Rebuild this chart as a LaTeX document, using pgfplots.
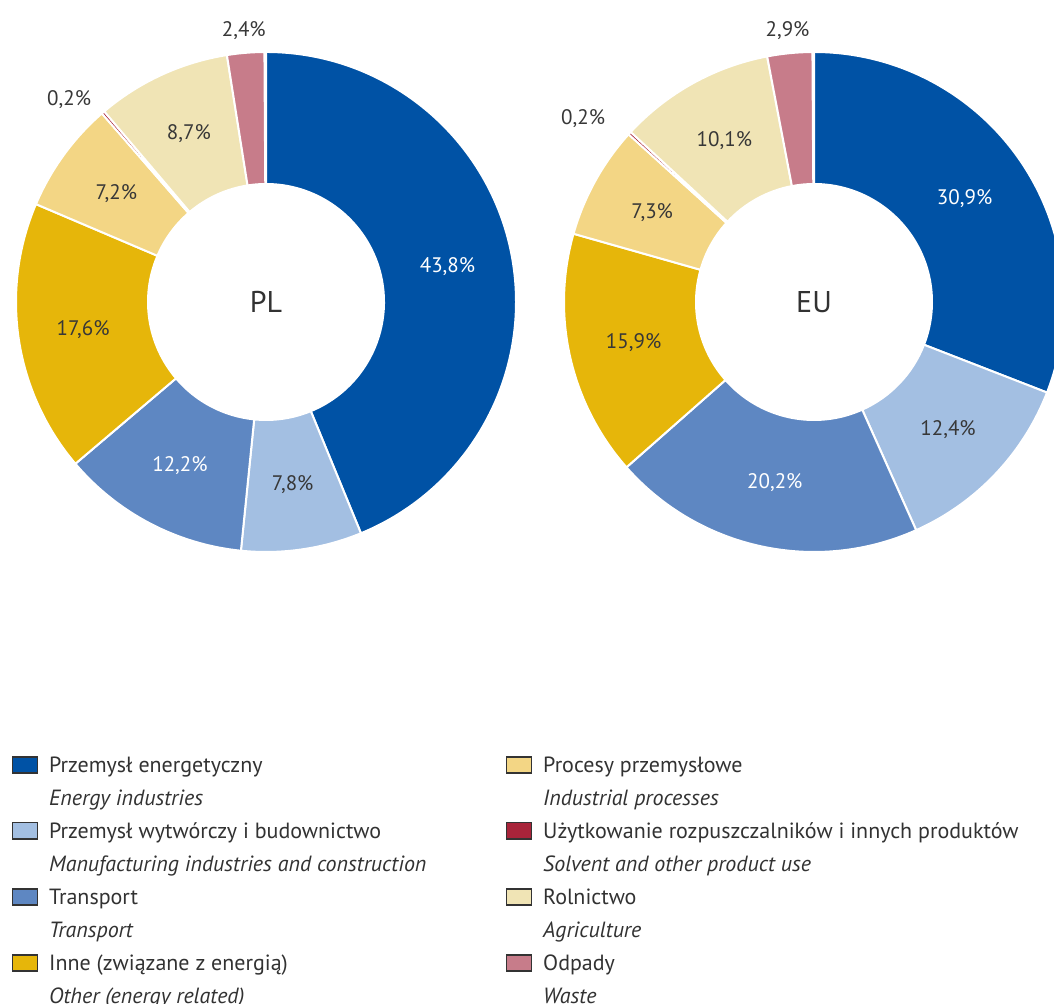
\documentclass[border=0pt]{standalone}
\usepackage{pgfplots}
\pgfplotsset{compat=1.18}
\usepackage{pgfplotstable}
\usepackage{fontspec}
\setmainfont{PT Sans}

\definecolor{cEnergy}{RGB}{0,82,165}
\definecolor{cManuf}{RGB}{163,191,226}
\definecolor{cTransport}{RGB}{94,135,194}
\definecolor{cOther}{RGB}{230,182,10}
\definecolor{cIndproc}{RGB}{243,214,133}
\definecolor{cSolvent}{RGB}{168,36,58}
\definecolor{cAgri}{RGB}{240,228,181}
\definecolor{cWaste}{RGB}{199,124,138}
\definecolor{labW}{RGB}{255,255,255}
\definecolor{labD}{RGB}{55,55,55}
\definecolor{txtc}{RGB}{50,50,50}

% value = share in %, lr = label radius, da = label angle shift, lc = label colour
\pgfplotstableread{
cat val lr da lc
Energy 43.8 0.74 0 W
Manuf 7.8 0.74 0 D
Transport 12.2 0.74 0 W
Other 17.6 0.74 0 D
Indproc 7.2 0.74 0 D
Solvent 0.2 1.13 3.5 D
Agri 8.7 0.74 0 D
Waste 2.4 1.09 0 D
}\tablePL

\pgfplotstableread{
cat val lr da lc
Energy 30.9 0.73 0 W
Manuf 12.4 0.74 0 D
Transport 20.2 0.74 0 W
Other 15.9 0.74 0 D
Indproc 7.3 0.74 0 D
Solvent 0.2 1.18 4 D
Agri 10.1 0.74 0 D
Waste 2.9 1.09 0 D
}\tableEU

\def\Rpt{125pt}
\def\rpt{59pt}
\def\rin{0.472}
\newcommand{\labfont}{\fontsize{10.5}{12}\selectfont}

\newcommand{\donut}[1]{%
 \def\cum{0}%
 \pgfplotsforeachungrouped \rowidx in {0,...,7}{%
   \pgfplotstablegetelem{\rowidx}{cat}\of{#1}\let\curcat\pgfplotsretval
   \pgfplotstablegetelem{\rowidx}{val}\of{#1}\let\curval\pgfplotsretval
   \pgfplotstablegetelem{\rowidx}{lr}\of{#1}\let\curlr\pgfplotsretval
   \pgfplotstablegetelem{\rowidx}{da}\of{#1}\let\curda\pgfplotsretval
   \pgfplotstablegetelem{\rowidx}{lc}\of{#1}\let\curlc\pgfplotsretval
   \pgfmathsetmacro\aA{90-3.6*\cum}%
   \pgfmathsetmacro\aB{90-3.6*(\cum+\curval)}%
   \pgfmathsetmacro\aM{(\aA+\aB)/2+\curda}%
   \pgfmathsetmacro\xa{\rin*cos(\aA)}%
   \pgfmathsetmacro\ya{\rin*sin(\aA)}%
   \pgfmathsetmacro\xb{cos(\aA)}%
   \pgfmathsetmacro\yb{sin(\aA)}%
   \pgfmathsetmacro\xc{\rin*cos(\aB)}%
   \pgfmathsetmacro\yc{\rin*sin(\aB)}%
   \pgfmathsetmacro\xl{\curlr*cos(\aM)}%
   \pgfmathsetmacro\yl{\curlr*sin(\aM)}%
   \pgfmathprintnumberto[fixed,fixed zerofill,precision=1,use comma,assume math mode=true]{\curval}{\lbl}%
   \edef\temp{\noexpand\addplot[forget plot, fill=c\curcat, draw=white, line width=1pt, line join=round] coordinates {(\xa,\ya) (\xb,\yb)} arc[start angle=\aA, end angle=\aB, radius=\Rpt] -- (axis cs:\xc,\yc) arc[start angle=\aB, end angle=\aA, radius=\rpt] -- cycle;}%
   \temp
   \edef\temp{\noexpand\node[text=lab\curlc, font=\noexpand\labfont] at (axis cs:\xl,\yl) {\unexpanded\expandafter{\lbl}\noexpand\%};}%
   \temp
   \pgfmathsetmacro\cum{\cum+\curval}%
 }%
}

\pgfplotsset{
  swatch/.style={legend image code/.code={\draw[##1, line width=0.6pt] (0pt,-3.2pt) rectangle (12.5pt,4.8pt);}},
  donutaxis/.style={
    hide axis, clip=false,
    xmin=-1, xmax=1, ymin=-1, ymax=1,
    x=125pt, y=125pt,
    anchor=origin,
    legend cell align=left,
    legend style={draw=none, fill=none, inner sep=0pt, outer sep=0pt,
      anchor=north west,
      font=\fontsize{11}{13}\selectfont, text=txtc,
      row sep=6pt,
      nodes={inner sep=0pt, text height=8pt, text depth=2.5pt},
      /tikz/every odd column/.append style={column sep=5.5pt}},
  }
}

\begin{document}
\begin{tikzpicture}
\useasboundingbox (0,0) rectangle (527pt,502pt);
\clip (0,0) rectangle (527pt,502pt);

\begin{axis}[donutaxis, at={(133pt,351pt)},
  legend style={at={(-0.008,-0.408)}}]
  \donut{\tablePL}
  \node[text=txtc, font=\fontsize{15}{17}\selectfont] at (axis cs:0,0) {PL};
  \addlegendimage{swatch, fill=cEnergy, draw=black!80}\addlegendentry{Przemysł energetyczny}
  \addlegendimage{empty legend}\addlegendentry{\textit{Energy industries}}
  \addlegendimage{swatch, fill=cManuf, draw=black!80}\addlegendentry{Przemysł wytwórczy i budownictwo}
  \addlegendimage{empty legend}\addlegendentry{\textit{Manufacturing industries and construction}}
  \addlegendimage{swatch, fill=cTransport, draw=black!80}\addlegendentry{Transport}
  \addlegendimage{empty legend}\addlegendentry{\textit{Transport}}
  \addlegendimage{swatch, fill=cOther, draw=black!80}\addlegendentry{Inne (związane z energią)}
  \addlegendimage{empty legend}\addlegendentry{\textit{Other (energy related)}}
\end{axis}

\begin{axis}[donutaxis, at={(407pt,351pt)},
  legend style={at={(-0.116,-0.408)}}]
  \donut{\tableEU}
  \node[text=txtc, font=\fontsize{15}{17}\selectfont] at (axis cs:0,0) {EU};
  \addlegendimage{swatch, fill=cIndproc, draw=black!80}\addlegendentry{Procesy przemysłowe}
  \addlegendimage{empty legend}\addlegendentry{\textit{Industrial processes}}
  \addlegendimage{swatch, fill=cSolvent, draw=black!80}\addlegendentry{Użytkowanie rozpuszczalników i innych produktów}
  \addlegendimage{empty legend}\addlegendentry{\textit{Solvent and other product use}}
  \addlegendimage{swatch, fill=cAgri, draw=black!80}\addlegendentry{Rolnictwo}
  \addlegendimage{empty legend}\addlegendentry{\textit{Agriculture}}
  \addlegendimage{swatch, fill=cWaste, draw=black!80}\addlegendentry{Odpady}
  \addlegendimage{empty legend}\addlegendentry{\textit{Waste}}
\end{axis}
\end{tikzpicture}
\end{document}
